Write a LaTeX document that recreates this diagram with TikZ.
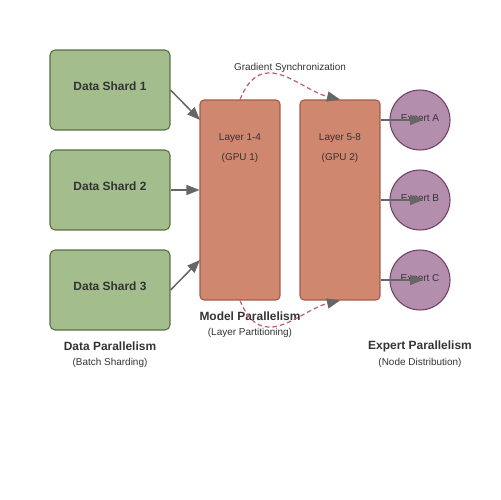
\documentclass[tikz,border=0pt]{standalone}
\usepackage{fontspec}
\setmainfont{Liberation Sans}
\usetikzlibrary{arrows.meta}
\definecolor{shardfill}{HTML}{A3BE8C}
\definecolor{sharddraw}{HTML}{55703F}
\definecolor{layerfill}{HTML}{D08770}
\definecolor{layerdraw}{HTML}{A55A43}
\definecolor{expfill}{HTML}{B48EAD}
\definecolor{expdraw}{HTML}{6E4066}
\definecolor{syncred}{HTML}{BF616A}
\definecolor{arrowgray}{HTML}{666666}
\definecolor{txt}{HTML}{333333}
\tikzset{
  bigfont/.style={font=\fontsize{6.8}{8}\selectfont\bfseries, text=txt},
  smallfont/.style={font=\fontsize{5.67}{7}\selectfont, text=txt},
  shardbox/.style={draw=sharddraw, fill=shardfill, line width=0.6pt, rounded corners=0.1cm,
     minimum width=2.4cm, minimum height=1.6cm, inner sep=0pt},
  layerbox/.style={draw=layerdraw, fill=layerfill, line width=0.6pt, rounded corners=0.08cm,
     minimum width=1.6cm, minimum height=4cm, inner sep=0pt},
  expcirc/.style={circle, draw=expdraw, fill=expfill, line width=0.6pt, minimum size=1.2cm, inner sep=0pt},
  conn/.style={draw=arrowgray, line width=0.85pt, -{Triangle[length=0.26cm, width=0.2cm]}},
  syncline/.style={draw=syncred, line width=0.7pt, dash pattern=on 2.6pt off 1.7pt,
     -{Triangle[length=0.26cm, width=0.2cm, color=arrowgray, fill=arrowgray]}},
  lbl/.style={inner sep=0pt, anchor=center},
}
\begin{document}
\begin{tikzpicture}[x=0.02cm, y=-0.02cm]
\useasboundingbox (0,0) rectangle (500,500);
% data shards
\node[shardbox] (s1) at (110,90) {};
\node[shardbox] (s2) at (110,190) {};
\node[shardbox] (s3) at (110,290) {};
\node[lbl, bigfont] (s1t) at (110,86) {Data Shard 1};
\node[lbl, bigfont] (s2t) at (110,186) {Data Shard 2};
\node[lbl, bigfont] (s3t) at (110,286) {Data Shard 3};
% layers
\node[layerbox] (l1) at (240,200) {};
\node[layerbox] (l2) at (340,200) {};
\node[lbl, smallfont] (l1a) at (240,138) {Layer 1-4};
\node[lbl, smallfont] (l1b) at (240,158) {(GPU 1)};
\node[lbl, smallfont] (l2a) at (340,138) {Layer 5-8};
\node[lbl, smallfont] (l2b) at (340,158) {(GPU 2)};
% experts
\node[expcirc] (eA) at (420,120) {};
\node[expcirc] (eB) at (420,200) {};
\node[expcirc] (eC) at (420,280) {};
\node[lbl, smallfont] (eAt) at (420,119) {Expert A};
\node[lbl, smallfont] (eBt) at (420,199) {Expert B};
\node[lbl, smallfont] (eCt) at (420,279) {Expert C};
% labels
\node[lbl, smallfont] (gs) at (290,68) {Gradient Synchronization};
\node[lbl, bigfont] (dp) at (110,346) {Data Parallelism};
\node[lbl, smallfont] (dps) at (110,363) {(Batch Sharding)};
\node[lbl, bigfont] (mp) at (250,316) {Model Parallelism};
\node[lbl, smallfont] (mps) at (250,333) {(Layer Partitioning)};
\node[lbl, bigfont] (ep) at (420,346.5) {Expert Parallelism};
\node[lbl, smallfont] (eps) at (420,363) {(Node Distribution)};
% shard arrows
\coordinate (t1) at (200,120);
\coordinate (t3) at (200,260);
\draw[conn] (s1.east) -- (t1);
\draw[conn] (s2.east) -- (l1.west |- s2.east);
\draw[conn] (s3.east) -- (t3);
% expert arrows
\draw[conn] (l2.east |- eA.center) -- ([xshift=0.06cm]eA.center);
\draw[conn] (l2.east |- eB.center) -- ([xshift=0.06cm]eB.center);
\draw[conn] (l2.east |- eC.center) -- ([xshift=0.06cm]eC.center);
% gradient sync
\draw[syncline] (l1.north) .. controls (262,45) and (300,90) .. (l2.north);
\draw[syncline] (l1.south) .. controls (262,355) and (300,310) .. (l2.south);
\end{tikzpicture}
\end{document}
